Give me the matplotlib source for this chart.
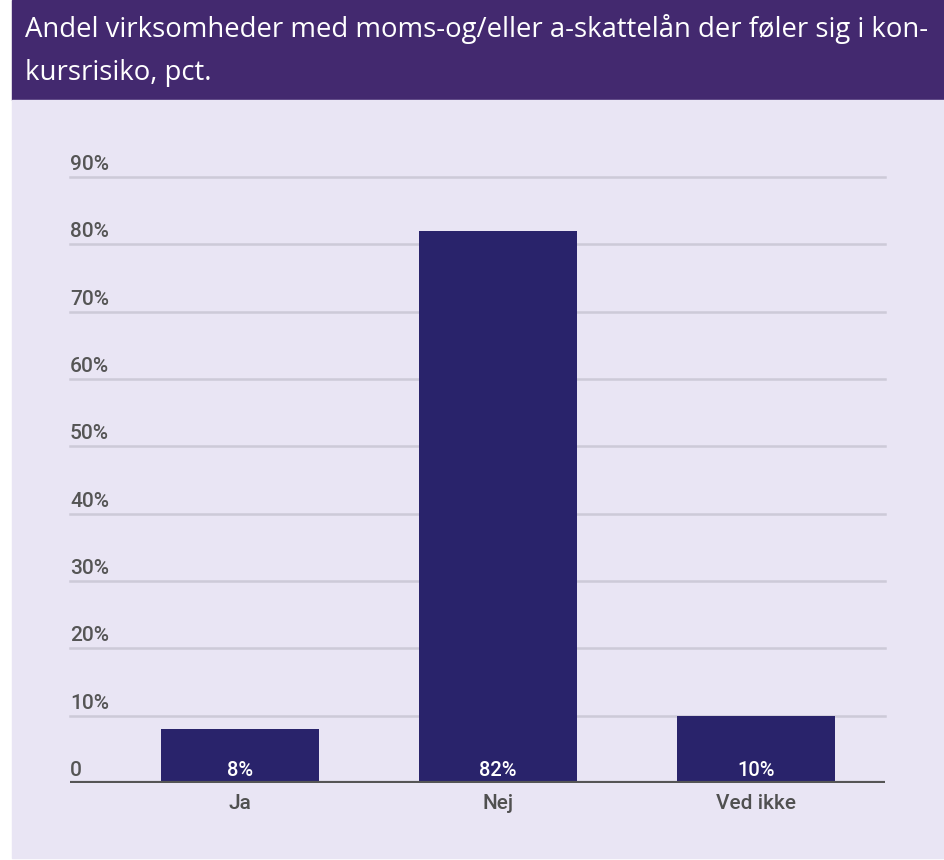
import matplotlib.pyplot as plt
from matplotlib.patches import Rectangle

categories = ['Ja', 'Nej', 'Ved ikke']
values = [8, 82, 10]
y_ticks = [0, 10, 20, 30, 40, 50, 60, 70, 80, 90]
y_tick_labels = ['0', '10%', '20%', '30%', '40%', '50%', '60%', '70%', '80%', '90%']
title_lines = ['Andel virksomheder med moms-og/eller a-skattelån der føler sig i kon-',
               'kursrisiko, pct.']

W, H = 945, 860
fig = plt.figure(figsize=(W / 100, H / 100), dpi=100)
fig.patch.set_facecolor('white')

# title band and panel behind the axes
fig.patches.append(Rectangle((12 / W, 1 - 100 / H), (W - 12) / W, 100 / H,
                             transform=fig.transFigure, color='#43296f', zorder=-10))
fig.patches.append(Rectangle((12 / W, 1 - 858 / H), (W - 12) / W, 758 / H,
                             transform=fig.transFigure, color='#e9e5f4', zorder=-10))
for i, line in enumerate(title_lines):
    fig.text(25 / W, 1 - (37 + 43 * i) / H, line, color='white', fontsize=19.8,
             family='Open Sans', va='baseline', ha='left')

ax = fig.add_axes([70 / W, 1 - 783 / H, (885 - 70) / W, (783 - 177) / H])
ax.set_zorder(5)
ax.set_facecolor('none')
x = range(len(categories))
bars = ax.bar(x, values, width=0.61, color='#29236b', zorder=3)
ax.set_xlim(-0.659, 2.5)
ax.set_ylim(0, 90)

for v in y_ticks[1:]:
    ax.axhline(v, color='#cdcad8', lw=1.8, zorder=1, clip_on=False)
ax.axhline(0, color='#555555', lw=3, zorder=4)

for sp in ax.spines.values():
    sp.set_visible(False)
ax.set_yticks([])
ax.set_xticks(list(x))
ax.set_xticklabels(categories, fontsize=15, family='Roboto', color='#505050',
                   fontweight='medium')
ax.tick_params(axis='x', length=0, pad=8)

for v, lab in zip(y_ticks, y_tick_labels):
    ax.text(0, v + 1.05, lab, transform=ax.get_yaxis_transform(), ha='left',
            va='baseline', fontsize=15, family='Roboto', color='#555555',
            fontweight='medium')

for xi, v in zip(x, values):
    ax.text(xi, 1.0, f'{v}%', ha='center', va='baseline', color='white',
            fontsize=14.5, family='Roboto', fontweight='medium', zorder=5)

fig.savefig('out.png', dpi=100)
